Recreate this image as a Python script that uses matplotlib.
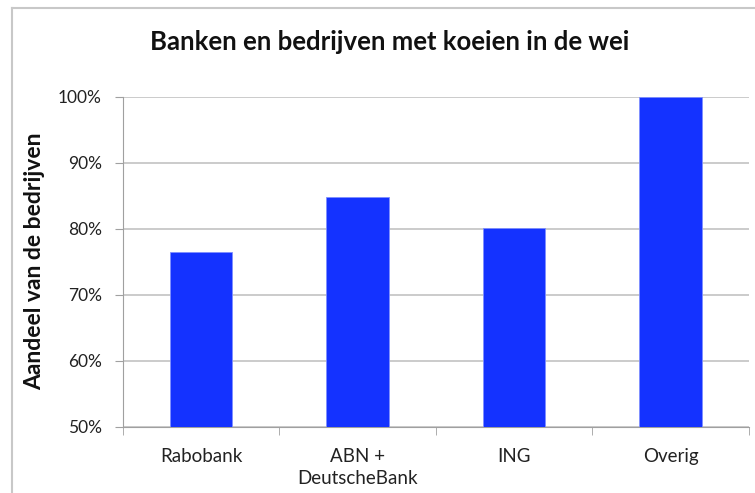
import matplotlib
matplotlib.use("Agg")
import matplotlib.pyplot as plt
from matplotlib.lines import Line2D
from matplotlib.ticker import FuncFormatter

categories = ["Rabobank", "ABN +\nDeutscheBank", "ING", "Overig"]
values = [76.4, 84.8, 80.1, 100.0]
yticks = [50, 60, 70, 80, 90, 100]

plt.rcParams['font.family'] = ['Lato', 'DejaVu Sans']

W, H = 755, 493
fig = plt.figure(figsize=(W / 100, H / 100), dpi=100)
ax = fig.add_axes([122.7 / W, 1 - 426.7 / H, (749 - 122.7) / W, (426.7 - 96.7) / H])

x = range(len(categories))
ax.bar(x, values, width=0.40, color='#1432FF', edgecolor='#7f8fff', linewidth=0.6, zorder=3)

ax.set_ylim(50, 100)
ax.set_xlim(-0.5, len(categories) - 0.5)
ax.set_yticks(yticks)
ax.yaxis.set_major_formatter(FuncFormatter(lambda v, p: f"{int(v)}%"))
ax.set_xticks(list(x))
ax.set_xticklabels(categories, fontsize=13.5, color='#222222', linespacing=1.4)
ax.tick_params(axis='x', length=0, pad=15)
ax.set_xticks([i + 0.5 for i in range(-1, len(categories))], minor=True)
ax.tick_params(axis='x', which='minor', length=6, color='#a0a0a0', direction='out')
ax.tick_params(axis='y', length=6, color='#a0a0a0', labelsize=12.5, labelcolor='#222222', pad=9)

ax.grid(axis='y', color='#bdbdbd', linewidth=1.1, zorder=0)
for s in ['top', 'right']:
    ax.spines[s].set_visible(False)
ax.spines['left'].set_color('#a0a0a0')
ax.spines['bottom'].set_color('#a0a0a0')

ax.set_ylabel("Aandeel van de bedrijven", fontsize=16.5, fontweight='bold', color='#111111', labelpad=9)
fig.text(390 / W, 1 - 42 / H, "Banken en bedrijven met koeien in de wei", fontsize=18.5,
         fontweight='bold', ha='center', va='center', color='#111111')

# outer chart border
fig.add_artist(Line2D([12 / W, 12 / W], [0, 1 - 8 / H], transform=fig.transFigure, color='#c8c8c8', lw=1.5))
fig.add_artist(Line2D([12 / W, 1], [1 - 8 / H, 1 - 8 / H], transform=fig.transFigure, color='#c8c8c8', lw=1.5))

fig.savefig("out.png", dpi=100)
